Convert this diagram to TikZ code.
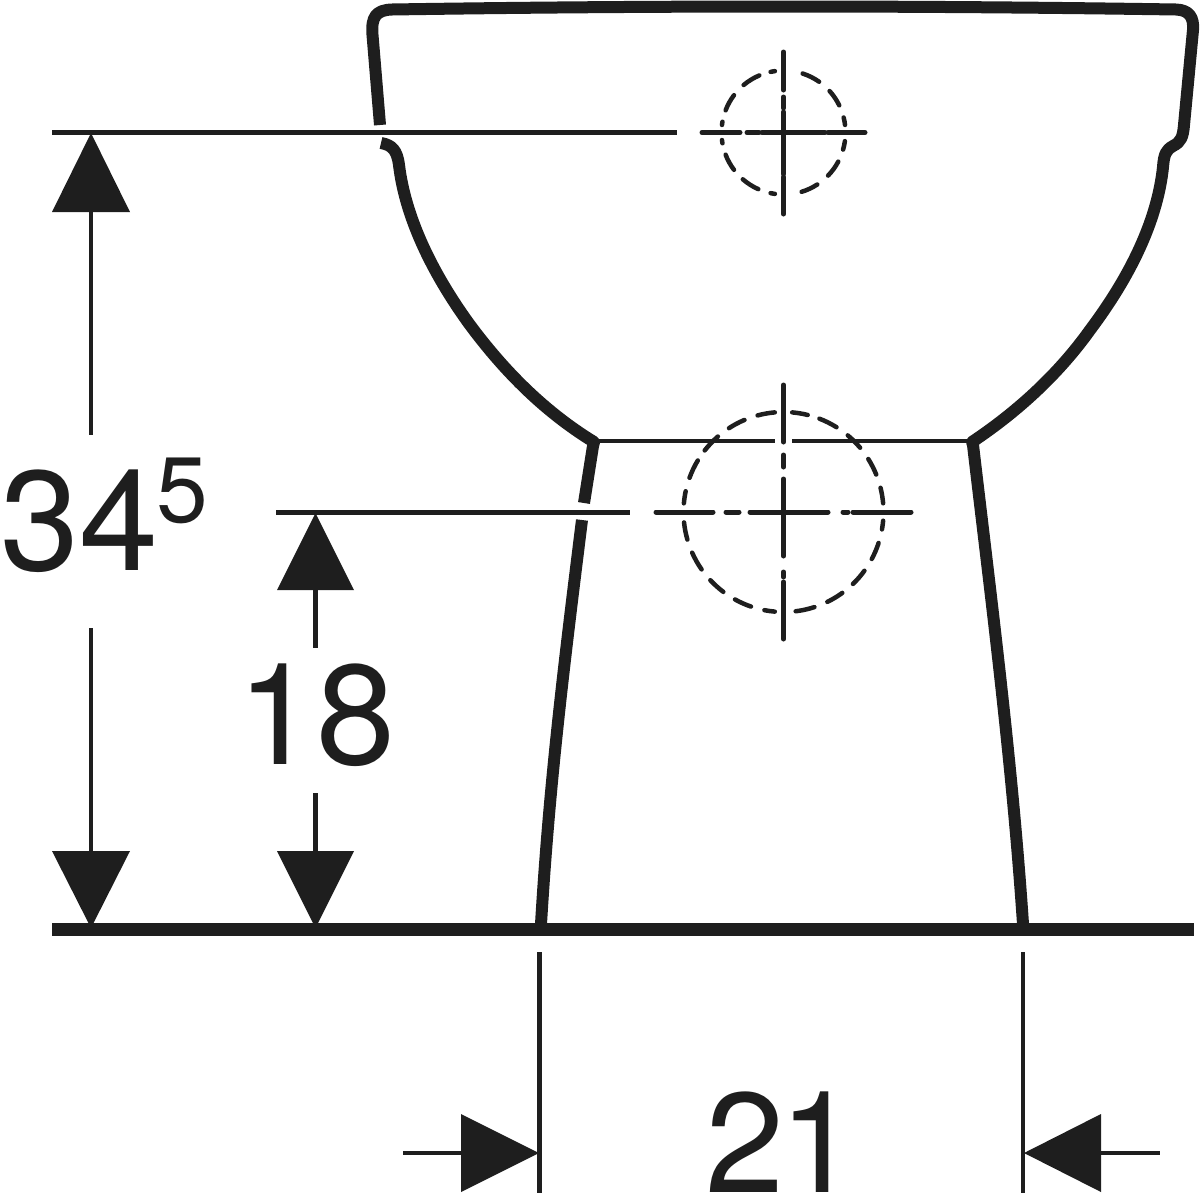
\documentclass[tikz,border=0pt]{standalone}
\usepackage{fontspec}
\setmainfont{TeX Gyre Heros}
\definecolor{ink}{HTML}{1E1E1E}
\tikzset{
  body/.style={line width=12pt,line join=round,color=ink},
  dim/.style={line width=4.5pt,color=ink},
  centre/.style={line width=5pt,line cap=round,color=ink},
  tip/.style={fill=ink,draw=none},
  numeral/.style={font=\fontsize{142}{142}\selectfont,inner sep=0pt,anchor=base west,color=ink},
  small/.style={font=\fontsize{93}{93}\selectfont,inner sep=0pt,anchor=base west,color=ink}
}
\usetikzlibrary{calc}
\newcommand{\dasharc}[4]{\draw[centre,line width=4.5pt] ($(#1)+(#2:#4)$) arc[start angle=#2,end angle=#3,radius=#4];}
\begin{document}
\begin{tikzpicture}[x=1pt,y=-1pt]
\useasboundingbox (0,0) rectangle (1200,1200);
% ceramic outline
\draw[body] (380,125) -- (372.5,35) .. controls (371,17) and (376,10) .. (392,9.5)
  .. controls (650,5.5) and (920,5.5) .. (1176,9.5)
  .. controls (1189,10) and (1194,17) .. (1193,30)
  -- (1184,125) .. controls (1183,137) and (1181,142) .. (1173,146)
  .. controls (1166,150) and (1164,154) .. (1163,167)
  .. controls (1158,215) and (1135,270) .. (1090,330)
  .. controls (1060,372) and (1020,410) .. (972,442)
  -- (973,445) .. controls (990,590) and (1012,760) .. (1023,924);
\draw[body] (381,143) .. controls (392,145) and (397,150) .. (399,165)
  .. controls (405,215) and (430,270) .. (470,325)
  .. controls (505,372) and (545,412) .. (594,442)
  -- (593,446) -- (584,503);
\draw[body] (582,520) .. controls (562,680) and (549,790) .. (541,924);
% floor
\draw[line width=13pt,color=ink] (52,929) -- (1194,929);
% thin line at foot of the bowl
\draw[line width=4pt,color=ink] (596,441) -- (775,441);
\draw[line width=4pt,color=ink] (792,441) -- (970,441);
% upper centre marks
\draw[dim,line width=5pt] (52,132.5) -- (677,132.5);
\foreach \a/\b in {702/740,747/759,762/825,828/865}
  \draw[centre] (\a,132.5) -- (\b,132.5);
\foreach \a/\b in {52/90,97/108,112/174,177/214}
  \draw[centre] (783.5,\a) -- (783.5,\b);
\coordinate (c1) at (783.5,132.5);
\foreach \a/\b in {258/262,230/247,201/217,187/190,170/173,143/159,114/131,98/102,57/73,28/44,8/16,-14/-7,-42/-26,-72/-55}
  {\dasharc{c1}{\a}{\b}{62}}
% lower centre marks
\draw[dim,line width=5pt] (276,512) -- (630,512);
\foreach \a/\b in {656/713,726/739,750/828,843/848,853/911}
  \draw[centre] (\a,512) -- (\b,512);
\foreach \a/\b in {385/442,455/467,479/556,572/577,582/639}
  \draw[centre] (783.5,\a) -- (783.5,\b);
\coordinate (c2) at (783.5,512);
\foreach \a/\b in {255/265,237/247,218/229,200/211,185/192,164/174,145/156,127/137,109/119,95/101,72/83,54/64,36/46,18/28,5/10,-14/-5,-32/-22,-50/-40,-69/-58,-85/-76}
  {\dasharc{c2}{\a}{\b}{100}}
% dimension 34^5
\fill[tip] (91,133) -- (130,212) -- (52,212) -- cycle;
\fill[tip] (91,928) -- (130,851) -- (52,851) -- cycle;
\draw[dim] (91,212) -- (91,435);
\draw[dim] (91,628) -- (91,851);
\node[numeral] (n34) at (0,570) {34};
\node[small] (n5) at (156,522) {5};
% dimension 18
\fill[tip] (315.5,513) -- (354,590) -- (277,590) -- cycle;
\fill[tip] (315.5,928) -- (354,851) -- (277,851) -- cycle;
\draw[dim] (315.5,590) -- (315.5,648);
\draw[dim] (315.5,793) -- (315.5,851);
\node[numeral] (n18) at (237,764) {18};
% dimension 21
\draw[dim] (539.5,952) -- (539.5,1193);
\draw[dim] (1023,952) -- (1023,1193);
\fill[tip] (539,1153) -- (461,1114) -- (461,1192) -- cycle;
\fill[tip] (1024,1153) -- (1101,1114) -- (1101,1192) -- cycle;
\draw[dim] (403,1153) -- (461,1153);
\draw[dim] (1101,1153) -- (1160,1153);
\node[numeral] (n21) at (705,1192) {2\kern-5pt 1};
\end{tikzpicture}
\end{document}
